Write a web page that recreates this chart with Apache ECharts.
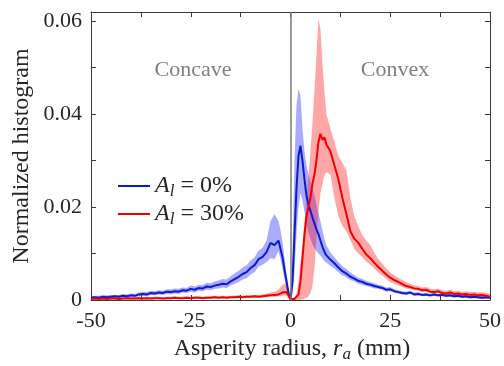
<!DOCTYPE html>
<html>
<head>
<meta charset="utf-8">
<script src="https://cdn.jsdelivr.net/npm/echarts@6/dist/echarts.min.js"></script>
<style>html,body{margin:0;padding:0;background:#fff}#c{width:504px;height:366px}</style>
</head>
<body>
<div id="c"></div>
<script>
// x positions (mm)
const radius = [
  -50,-49,-48,-47,-46,-45,-44,-43,-42,-41,
  -40,-39,-38,-37,-36,-35,-34,-33,-32,-31,
  -30,-29,-28,-27,-26,-25,-24,-23,-22,-21,
  -20,-19,-18,-17,-16,-15,-14,-13,-12,-11,
  -10,-9,-8,-7,-6,-5,-4,
  -3,-2.5,-2,-1.5,-1,-0.5,0,0.5,1,1.5,2,2.5,3,3.5,4,4.5,5,5.5,6,6.5,7,7.5,8,8.5,9,
  10,11,12,13,14,15,16,17,18,19,
  20,21,22,23,24,25,26,27,28,29,
  30,31,32,33,34,35,36,37,38,39,
  40,41,42,43,44,45,46,47,48,49,50
];
// A_l = 0% (blue)
const blueMean = [
  0.0005,0.0006,0.0005,0.0007,0.0006,0.0007,0.0008,0.0007,0.0009,0.0008,
  0.0010,0.0009,0.0012,0.0013,0.0012,0.0015,0.0014,0.0016,0.0015,0.0018,
  0.0017,0.0019,0.0018,0.0021,0.0020,0.0024,0.0022,0.0026,0.0025,0.0029,
  0.0028,0.0031,0.0033,0.0035,0.0034,0.0040,0.0045,0.0050,0.0056,0.0060,
  0.0069,0.0075,0.0088,0.0093,0.0103,0.0123,0.0118,
  0.0128,0.0110,0.0092,0.0065,0.0040,0.0015,0.0002,0.0040,0.0140,0.0240,0.0310,0.0332,0.0300,0.0260,0.0225,0.0205,0.0192,0.0178,0.0165,0.0152,0.0142,0.0128,0.0115,0.0104,0.0096,
  0.0087,0.0079,0.0070,0.0062,0.0057,0.0050,0.0046,0.0041,0.0039,0.0035,
  0.0033,0.0030,0.0028,0.0026,0.0022,0.0023,0.0019,0.0017,0.0015,0.0014,
  0.0016,0.0012,0.0013,0.0011,0.0012,0.0010,0.0012,0.0010,0.0011,0.0009,
  0.0010,0.0008,0.0009,0.0007,0.0008,0.0006,0.0007,0.0006,0.0005,0.0006,0.0005
];
const blueLow = [
  0.0002,0.0003,0.0002,0.0004,0.0003,0.0004,0.0005,0.0004,0.0006,0.0005,
  0.0007,0.0006,0.0008,0.0009,0.0008,0.0011,0.0010,0.0012,0.0011,0.0013,
  0.0012,0.0014,0.0013,0.0016,0.0015,0.0018,0.0016,0.0020,0.0019,0.0022,
  0.0021,0.0024,0.0025,0.0027,0.0026,0.0031,0.0035,0.0039,0.0044,0.0047,
  0.0055,0.0060,0.0072,0.0076,0.0082,0.0090,0.0088,
  0.0105,0.0088,0.0068,0.0045,0.0025,0.0006,0.0000,0.0010,0.0060,0.0140,0.0200,0.0230,0.0215,0.0190,0.0165,0.0145,0.0132,0.0120,0.0112,0.0105,0.0100,0.0095,0.0090,0.0084,0.0080,
  0.0074,0.0068,0.0060,0.0053,0.0049,0.0043,0.0040,0.0035,0.0033,0.0030,
  0.0028,0.0025,0.0024,0.0022,0.0018,0.0019,0.0016,0.0014,0.0012,0.0011,
  0.0013,0.0009,0.0010,0.0008,0.0009,0.0007,0.0009,0.0007,0.0008,0.0006,
  0.0007,0.0005,0.0006,0.0004,0.0005,0.0003,0.0004,0.0003,0.0002,0.0003,0.0002
];
const blueHigh = [
  0.0008,0.0009,0.0009,0.0010,0.0010,0.0011,0.0011,0.0011,0.0013,0.0012,
  0.0014,0.0013,0.0016,0.0018,0.0017,0.0020,0.0019,0.0021,0.0020,0.0023,
  0.0023,0.0025,0.0024,0.0027,0.0026,0.0031,0.0029,0.0033,0.0032,0.0037,
  0.0036,0.0040,0.0042,0.0045,0.0044,0.0051,0.0057,0.0063,0.0070,0.0075,
  0.0085,0.0092,0.0106,0.0112,0.0128,0.0170,0.0185,
  0.0170,0.0150,0.0125,0.0090,0.0058,0.0028,0.0006,0.0100,0.0300,0.0420,0.0455,0.0440,0.0370,0.0320,0.0290,0.0270,0.0255,0.0240,0.0225,0.0205,0.0188,0.0170,0.0150,0.0132,0.0118,
  0.0102,0.0092,0.0082,0.0073,0.0067,0.0059,0.0054,0.0048,0.0046,0.0041,
  0.0039,0.0036,0.0033,0.0031,0.0027,0.0028,0.0023,0.0021,0.0019,0.0018,
  0.0020,0.0016,0.0017,0.0014,0.0015,0.0013,0.0015,0.0013,0.0014,0.0012,
  0.0013,0.0011,0.0012,0.0010,0.0011,0.0009,0.0010,0.0009,0.0008,0.0009,0.0008
];
// A_l = 30% (red)
const redMean = [
  0.0002,0.0003,0.0002,0.0003,0.0002,0.0003,0.0003,0.0002,0.0003,0.0004,
  0.0003,0.0003,0.0004,0.0003,0.0004,0.0003,0.0004,0.0004,0.0003,0.0004,
  0.0004,0.0005,0.0004,0.0004,0.0005,0.0004,0.0005,0.0005,0.0004,0.0005,
  0.0005,0.0006,0.0005,0.0006,0.0005,0.0006,0.0006,0.0007,0.0006,0.0007,
  0.0007,0.0008,0.0007,0.0008,0.0009,0.0010,0.0011,
  0.0012,0.0014,0.0016,0.0018,0.0017,0.0010,0.0002,0.0001,0.0002,0.0005,0.0012,0.0040,0.0090,0.0140,0.0180,0.0200,0.0220,0.0250,0.0270,0.0300,0.0340,0.0358,0.0345,0.0350,0.0335,
  0.0320,0.0290,0.0260,0.0220,0.0185,0.0148,0.0132,0.0123,0.0110,0.0098,
  0.0090,0.0080,0.0071,0.0063,0.0055,0.0048,0.0043,0.0039,0.0034,0.0030,
  0.0028,0.0025,0.0024,0.0021,0.0022,0.0018,0.0017,0.0019,0.0015,0.0014,
  0.0016,0.0013,0.0014,0.0012,0.0013,0.0011,0.0012,0.0010,0.0011,0.0009,0.0007
];
const redLow = [
  0.0000,0.0001,0.0000,0.0001,0.0000,0.0001,0.0001,0.0000,0.0001,0.0002,
  0.0001,0.0001,0.0002,0.0001,0.0002,0.0001,0.0002,0.0002,0.0001,0.0002,
  0.0002,0.0003,0.0002,0.0002,0.0003,0.0002,0.0003,0.0003,0.0002,0.0003,
  0.0003,0.0004,0.0003,0.0004,0.0003,0.0004,0.0004,0.0005,0.0004,0.0005,
  0.0005,0.0005,0.0005,0.0005,0.0006,0.0007,0.0007,
  0.0008,0.0008,0.0009,0.0010,0.0008,0.0003,0.0000,0.0000,0.0000,0.0000,0.0000,0.0000,0.0002,0.0003,0.0005,0.0008,0.0015,0.0030,0.0070,0.0130,0.0190,0.0230,0.0250,0.0270,0.0275,
  0.0270,0.0220,0.0180,0.0160,0.0148,0.0130,0.0110,0.0100,0.0092,0.0083,
  0.0076,0.0068,0.0059,0.0053,0.0045,0.0039,0.0035,0.0032,0.0028,0.0025,
  0.0023,0.0021,0.0020,0.0017,0.0018,0.0014,0.0013,0.0015,0.0011,0.0010,
  0.0012,0.0009,0.0010,0.0008,0.0009,0.0007,0.0008,0.0006,0.0007,0.0005,0.0004
];
const redHigh = [
  0.0005,0.0006,0.0005,0.0006,0.0005,0.0006,0.0006,0.0005,0.0006,0.0007,
  0.0006,0.0006,0.0007,0.0006,0.0007,0.0006,0.0007,0.0007,0.0006,0.0007,
  0.0007,0.0008,0.0007,0.0007,0.0008,0.0007,0.0008,0.0008,0.0007,0.0008,
  0.0008,0.0009,0.0008,0.0009,0.0008,0.0009,0.0009,0.0010,0.0009,0.0010,
  0.0010,0.0011,0.0011,0.0012,0.0014,0.0016,0.0018,
  0.0022,0.0028,0.0032,0.0035,0.0033,0.0020,0.0006,0.0004,0.0006,0.0012,0.0040,0.0080,0.0120,0.0170,0.0215,0.0265,0.0320,0.0380,0.0450,0.0525,0.0605,0.0585,0.0510,0.0450,0.0400,
  0.0370,0.0340,0.0310,0.0295,0.0280,0.0220,0.0180,0.0158,0.0140,0.0128,
  0.0118,0.0102,0.0088,0.0078,0.0068,0.0060,0.0053,0.0048,0.0043,0.0038,
  0.0035,0.0031,0.0030,0.0027,0.0028,0.0024,0.0023,0.0025,0.0021,0.0020,
  0.0022,0.0019,0.0020,0.0018,0.0019,0.0017,0.0018,0.0016,0.0017,0.0015,0.0013
];
const xTickLabels = ['-50','-25','0','25','50'];
const yTickLabels = ['0','0.02','0.04','0.06'];

const FONT = 'Liberation Serif';
const axisColor = '#3a3a3a';

function bandSeries(name, low, high, color) {
  return {
    type: 'custom', name: name, silent: true, z: 1,
    data: [[radius[0], low[0]]],
    encode: {x: 0, y: 1},
    renderItem: function (params, api) {
      const pts = [];
      for (let i = 0; i < radius.length; i++) pts.push(api.coord([radius[i], high[i]]));
      for (let i = radius.length - 1; i >= 0; i--) pts.push(api.coord([radius[i], low[i]]));
      return {type: 'polygon', shape: {points: pts}, style: {fill: color, stroke: null}};
    }
  };
}
function lineSeries(name, vals, color, z) {
  return {
    type: 'line', name: name, z: z, showSymbol: false, symbol: 'none',
    data: radius.map((r, i) => [r, vals[i]]),
    lineStyle: {color: color, width: 2}, itemStyle: {color: color},
    animation: false
  };
}

const chart = echarts.init(document.getElementById('c'), null, {renderer: 'canvas'});
const xCommon = {type: 'value', min: -50, max: 50, interval: 12.5,
  axisLine: {show: true, onZero: false, lineStyle: {color: axisColor, width: 1}},
  axisTick: {show: true, inside: true, length: 5, lineStyle: {color: axisColor}},
  splitLine: {show: false}};
const yCommon = {type: 'value', min: 0, max: 0.062, interval: 0.01,
  axisLine: {show: true, onZero: false, lineStyle: {color: axisColor, width: 1}},
  axisTick: {show: true, inside: true, length: 5, lineStyle: {color: axisColor}},
  splitLine: {show: false}};

const blue = '#0a1ccc';
const red = '#f00000';
const series = [
  bandSeries('blueBand', blueLow, blueHigh, 'rgba(20,20,255,0.36)'),
  bandSeries('redBand', redLow, redHigh, 'rgba(255,10,10,0.36)'),
  Object.assign(lineSeries('A_l = 0%', blueMean, blue, 3), {
    markLine: {silent: true, symbol: 'none', animation: false,
      lineStyle: {color: '#7a7a7a', width: 1.5, type: 'solid'}, label: {show: false},
      data: [{xAxis: 0}]}
  }),
  lineSeries('A_l = 30%', redMean, red, 4)
];

const txt = '#262626';
function richStyles(fs) {
  return {n: {fontFamily: FONT, fontSize: fs, fill: txt},
          i: {fontFamily: FONT, fontSize: fs, fontStyle: 'italic', fill: txt},
          s: {fontFamily: FONT, fontSize: Math.round(fs * 0.7), fontStyle: 'italic', fill: txt, padding: [Math.round(fs * 0.45), 0, 0, 0]}};
}

chart.setOption({
  animation: false,
  backgroundColor: '#ffffff',
  grid: {left: 91, right: 13, top: 12, bottom: 66, containLabel: false},
  xAxis: [
    Object.assign({}, xCommon, {position: 'bottom',
      axisLabel: {show: true, margin: 10, color: txt, fontFamily: FONT, fontSize: 22,
        formatter: function (v) { const k = Math.round(v); if (Math.abs(v - k) > 1e-6 || k % 25 !== 0) return ''; return xTickLabels[(k + 50) / 25]; }}}),
    Object.assign({}, xCommon, {position: 'top', axisLabel: {show: false}})
  ],
  yAxis: [
    Object.assign({}, yCommon, {position: 'left',
      axisLabel: {show: true, margin: 9, color: txt, fontFamily: FONT, fontSize: 22,
        formatter: function (v) { const k = Math.round(v * 100); if (Math.abs(v * 100 - k) > 1e-6 || k % 2 !== 0) return ''; return yTickLabels[k / 2]; }}}),
    Object.assign({}, yCommon, {position: 'right', axisLabel: {show: false}})
  ],
  series: series,
  graphic: [
    {type: 'text', silent: true, x: 292, y: 349, style: {
      text: '{n|Asperity radius, }{i|r}{s|a}{n| (mm)}', align: 'center', verticalAlign: 'middle',
      rich: richStyles(24)}},
    {type: 'text', silent: true, x: 22, y: 156, rotation: Math.PI / 2, style: {
      text: 'Normalized histogram', align: 'center', verticalAlign: 'middle',
      fontFamily: FONT, fontSize: 24, fill: txt}},
    {type: 'text', silent: true, x: 193, y: 70, style: {
      text: 'Concave', align: 'center', verticalAlign: 'middle',
      fontFamily: FONT, fontSize: 22, fill: '#808080'}},
    {type: 'text', silent: true, x: 395, y: 70, style: {
      text: 'Convex', align: 'center', verticalAlign: 'middle',
      fontFamily: FONT, fontSize: 22, fill: '#808080'}},
    {type: 'line', silent: true, shape: {x1: 118, y1: 186, x2: 150, y2: 186}, style: {stroke: blue, lineWidth: 2}},
    {type: 'line', silent: true, shape: {x1: 118, y1: 214, x2: 150, y2: 214}, style: {stroke: red, lineWidth: 2}},
    {type: 'text', silent: true, x: 155, y: 186, style: {
      text: '{i|A}{s|l}{n| = 0%}', align: 'left', verticalAlign: 'middle', rich: richStyles(24)}},
    {type: 'text', silent: true, x: 155, y: 214, style: {
      text: '{i|A}{s|l}{n| = 30%}', align: 'left', verticalAlign: 'middle', rich: richStyles(24)}}
  ]
});
</script>
</body>
</html>
